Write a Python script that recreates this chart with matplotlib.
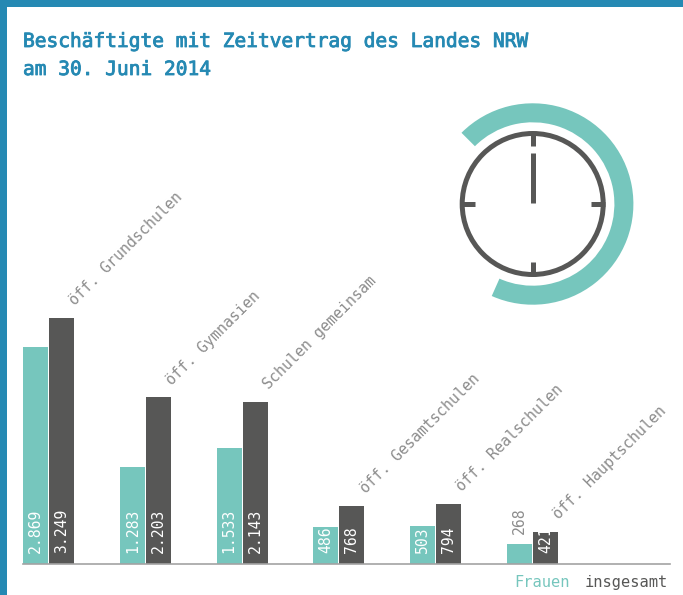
import matplotlib
matplotlib.use("Agg")
import matplotlib.pyplot as plt
from matplotlib.patches import Wedge, Circle, Rectangle
import matplotlib.patheffects as pe
import numpy as np

categories = ["öff. Grundschulen", "öff. Gymnasien", "Schulen gemeinsam",
              "öff. Gesamtschulen", "öff. Realschulen", "öff. Hauptschulen"]
frauen = [2869, 1283, 1533, 486, 503, 268]
insgesamt = [3249, 2203, 2143, 768, 794, 421]
title_lines = ["Beschäftigte mit Zeitvertrag des Landes NRW", "am 30. Juni 2014"]

TEAL = "#76c6bd"
DARK = "#575756"
BLUE = "#2589b3"
GREY = "#8c8c8c"
W, H = 683, 595
plt.rcParams["font.family"] = ["DejaVu Sans Mono"]


def fmt(v):
    return f"{v:,}".replace(",", ".")


fig = plt.figure(figsize=(W / 100, H / 100), dpi=100, facecolor="white")

# full-figure pixel canvas for frame, title, clock
bg = fig.add_axes([0, 0, 1, 1])
bg.set_xlim(0, W)
bg.set_ylim(H, 0)
bg.axis("off")
bg.add_patch(Rectangle((0, 0), W, 7, color=BLUE, lw=0))
bg.add_patch(Rectangle((0, 0), 7, H, color=BLUE, lw=0))
semi = [pe.withStroke(linewidth=0.6, foreground=BLUE)]
bg.text(23, 47, title_lines[0], color=BLUE, fontsize=14.05, va="baseline", path_effects=semi)
bg.text(23, 75, title_lines[1], color=BLUE, fontsize=14.05, va="baseline", path_effects=semi)

# clock (y axis inverted, so angles are mirrored)
cx, cy = 532.7, 204
bg.add_patch(Wedge((cx, cy), 100.7, -135, 114, width=19, color=TEAL, lw=0))
bg.add_patch(Circle((cx, cy), 70.5, fill=False, ec=DARK, lw=3.6))
for x0, y0, x1, y1 in [(cx, cy - 72, cx, cy - 58), (cx, cy + 72, cx, cy + 58),
                       (cx - 72, cy, cx - 58, cy), (cx + 72, cy, cx + 58, cy),
                       (cx, cy - 51, cx, cy - 1)]:
    bg.plot([x0, x1], [y0, y1], color=DARK, lw=3.6, solid_capstyle="butt")

# chart
left, right, base, top = 23, 670, 564, 318
ax = fig.add_axes([left / W, (H - base) / H, (right - left) / W, (base - top) / H])
ax.patch.set_alpha(0)
step = 96.8
bw = 25 / step
gap = 1 / step
ax.set_xlim(0, (right - left) / step)
ax.set_ylim(0, max(insgesamt))
x = np.arange(len(categories))
ax.bar(x, frauen, bw, align="edge", color=TEAL, lw=0)
ax.bar(x + bw + gap, insgesamt, bw, align="edge", color=DARK, lw=0)
for s in ("top", "left", "right"):
    ax.spines[s].set_visible(False)
ax.spines["bottom"].set_color("#a3a3a3")
ax.spines["bottom"].set_linewidth(1.2)
ax.set_xticks([])
ax.set_yticks([])

for i, cat in enumerate(categories):
    for xc, v, col in ((i + bw / 2, frauen[i], TEAL), (i + 1.5 * bw + gap, insgesamt[i], DARK)):
        if v > 400:
            ax.annotate(fmt(v), (xc, 0), xytext=(0, 11), textcoords="offset pixels",
                        rotation=90, ha="center", va="bottom", color="white", fontsize=10.6,
                        annotation_clip=False)
        else:
            ax.annotate(fmt(v), (xc, v), xytext=(0, 10), textcoords="offset pixels",
                        rotation=90, ha="center", va="bottom", color=GREY, fontsize=10.6,
                        annotation_clip=False)
    ax.annotate(cat, (i + 2 * bw + gap, insgesamt[i]), xytext=(-2, 15), textcoords="offset pixels",
                rotation=45, rotation_mode="anchor", ha="left", va="center", color=GREY,
                fontsize=10.85, annotation_clip=False)

bg.text(570, 587, "Frauen", color=TEAL, fontsize=11.1, ha="right", va="baseline")
bg.text(668, 587, "insgesamt", color=DARK, fontsize=11.1, ha="right", va="baseline")

fig.savefig("out.png", dpi=100, facecolor="white")
